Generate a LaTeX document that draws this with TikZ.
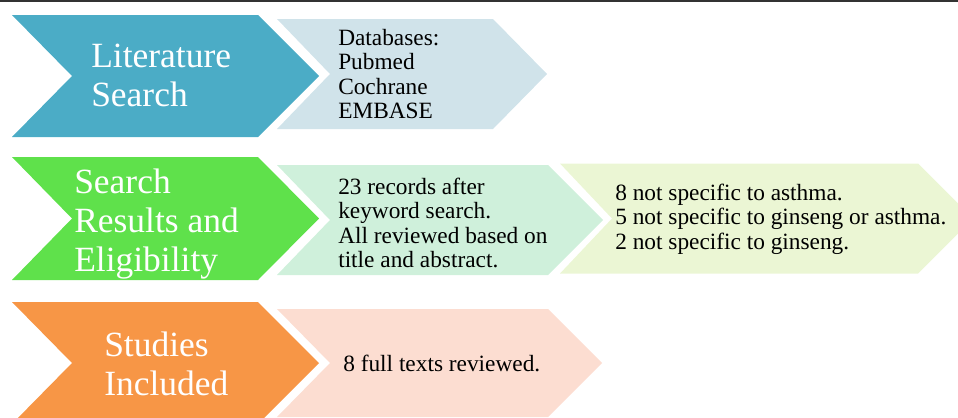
\documentclass[tikz,border=0pt]{standalone}
\usepackage{fontspec}
\setmainfont{Liberation Serif}
\definecolor{blueD}{HTML}{4BACC6}
\definecolor{blueL}{HTML}{D0E3EA}
\definecolor{greenD}{HTML}{5FE14B}
\definecolor{greenL}{HTML}{CFF0DB}
\definecolor{yellowL}{HTML}{EBF6D4}
\definecolor{orangeD}{HTML}{F79646}
\definecolor{peachL}{HTML}{FCDDD1}
\definecolor{topline}{HTML}{333333}
% #1 colour, #2 left x, #3 notch depth, #4 top-right x, #5 tip depth, #6 centre y, #7 half height
\newcommand{\mychev}[7]{%
  \fill[#1] (#2,#6-#7) -- (#4,#6-#7) -- (#4+#5,#6) -- (#4,#6+#7) -- (#2,#6+#7) -- (#2+#3,#6) -- cycle;}
\tikzset{
  bigtxt/.style={anchor=west, inner sep=0pt, align=left, text=white,
    font=\fontsize{26.6}{29.3}\selectfont},
  smalltxt/.style={anchor=west, inner sep=0pt, align=left, text=black,
    font=\fontsize{17.5}{18.4}\selectfont}
}
\begin{document}
\begin{tikzpicture}[x=0.75pt,y=-0.75pt]
\path[use as bounding box] (0,0) rectangle (958,418);
\begin{scope}
\clip (0,0) rectangle (958,418);
\fill[topline] (0,0) rectangle (958,2);
% row 1
\mychev{blueD}{12}{60}{258}{61}{76}{61}
\mychev{blueL}{277}{53}{493}{54}{74}{55}
% row 2
\mychev{greenD}{12}{60}{258}{61}{218.5}{61.5}
\mychev{greenL}{277}{53}{548}{55}{220}{55}
\mychev{yellowL}{560}{52}{918}{55}{218.5}{55}
% row 3
\mychev{orangeD}{12}{60}{258}{61}{363}{61}
\mychev{peachL}{277}{53}{548}{54}{363}{54}
\end{scope}
\node[bigtxt] (lit) at (91,75) {Literature\\Search};
\node[smalltxt] (db) at (338,74) {Databases:\\Pubmed\\Cochrane\\EMBASE};
\node[bigtxt] (sre) at (74,224) {Search\\Results and\\Eligibility};
\node[smalltxt] (rec) at (338,223) {23 records after\\keyword search.\\All reviewed based on\\title and abstract.};
\node[smalltxt] (excl) at (615,219) {8 not specific to asthma.\\5 not specific to ginseng or asthma.\\2 not specific to ginseng.};
\node[bigtxt] (stud) at (104,364) {Studies\\Included};
\node[smalltxt] (full) at (343,363) {8 full texts reviewed.};
\end{tikzpicture}
\end{document}
